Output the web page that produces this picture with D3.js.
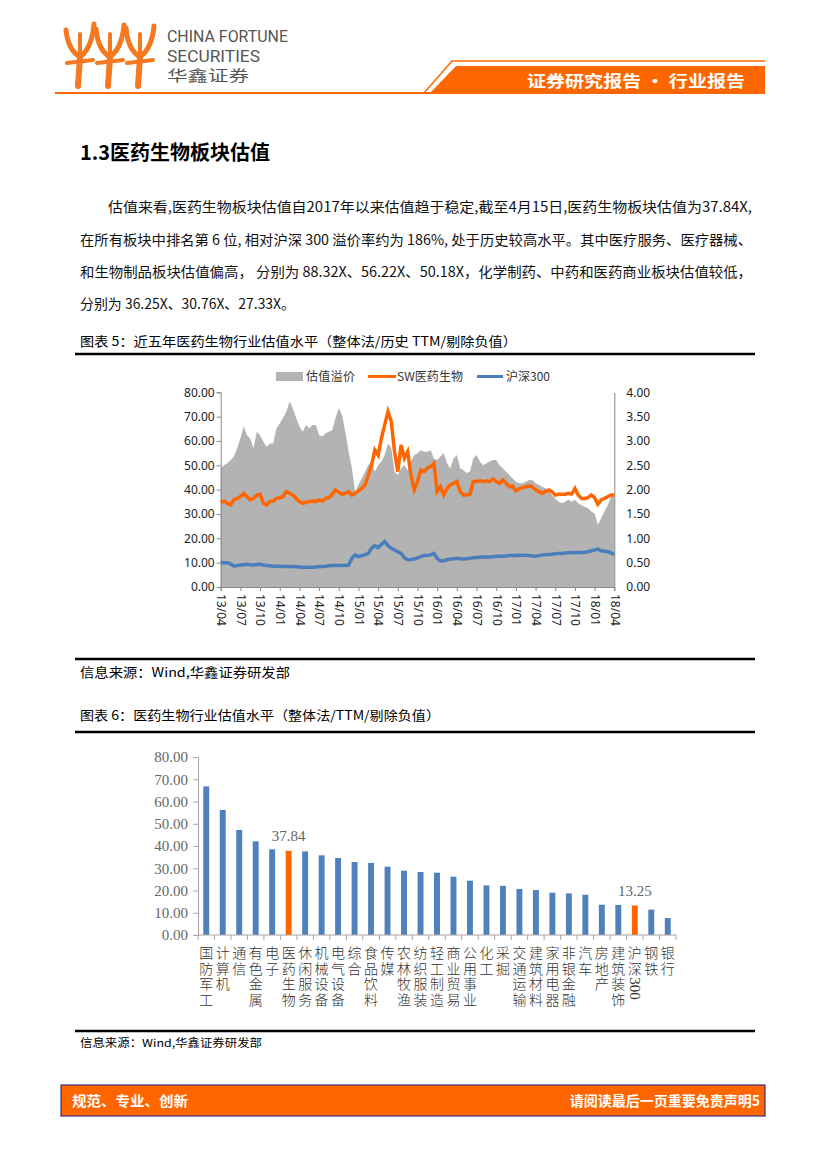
<!DOCTYPE html>
<html>
<head>
<meta charset="utf-8">
<script src="https://cdn.jsdelivr.net/npm/d3@7"></script>
<style>
  body { margin: 0; background: #fff; }
  svg { display: block; }
</style>
</head>
<body>
<script>
// ---- data: chart 5 (half-month steps from 13/04 to 18/04) ----
const xTickLabels = ["13/04","13/07","13/10","14/01","14/04","14/07","14/10","15/01","15/04","15/07","15/10",
                     "16/01","16/04","16/07","16/10","17/01","17/04","17/07","17/10","18/01","18/04"];
const leftTicks = [0, 10, 20, 30, 40, 50, 60, 70, 80];
const rightTicks = [0, 0.5, 1, 1.5, 2, 2.5, 3, 3.5, 4];
const seriesNames = ["估值溢价", "SW医药生物", "沪深300"];

// 估值溢价 (right axis)
const premium = [
  2.44, 2.50, 2.54, 2.60, 2.68, 2.85, 3.05, 3.30, 3.12, 3.05, 2.85, 3.19, 3.12, 2.99, 2.88, 2.95, 2.95, 3.26, 3.36, 3.47,
  3.60, 3.81, 3.67, 3.47, 3.30, 3.19, 3.33, 3.26, 3.33, 3.33, 3.12, 3.09, 3.16, 3.19, 3.22, 3.47, 3.67, 3.53, 3.19, 2.78,
  2.44, 1.95, 2.10, 2.23, 2.37, 2.50, 2.58, 2.37, 2.50, 2.58, 2.71, 2.95, 2.85, 2.37, 2.30, 2.44, 2.50, 2.40, 2.58, 2.71,
  2.75, 2.81, 2.78, 2.78, 2.81, 2.64, 2.61, 2.68, 2.75, 2.54, 2.44, 2.64, 2.71, 2.44, 2.40, 2.34, 2.37, 2.64, 2.71, 2.58,
  2.50, 2.54, 2.58, 2.61, 2.61, 2.50, 2.44, 2.37, 2.30, 2.23, 2.16, 2.13, 2.13, 2.16, 2.20, 2.20, 2.13, 2.10, 2.06, 2.03,
  1.99, 1.89, 1.82, 1.75, 1.72, 1.75, 1.79, 1.75, 1.79, 1.72, 1.68, 1.65, 1.62, 1.55, 1.51, 1.28, 1.41, 1.55, 1.68, 1.86, 1.89
];
// SW医药生物 PE (left axis)
const swPE = [
  34.8, 35.3, 34.4, 33.7, 35.8, 36.4, 37.1, 38.5, 37.1, 35.8, 36.4, 37.8, 38.1, 34.4, 33.7, 35.1, 35.3, 36.4, 36.7, 37.1,
  39.2, 38.5, 37.8, 36.4, 35.1, 34.4, 34.8, 35.1, 35.3, 35.1, 35.8, 35.3, 36.4, 36.7, 38.1, 39.9, 38.9, 38.1, 38.5, 39.2,
  37.8, 38.5, 39.5, 40.5, 41.9, 46.0, 50.1, 56.3, 54.2, 61.1, 66.6, 72.1, 68.0, 55.6, 47.4, 58.4, 52.9, 55.6, 46.0, 39.9,
  43.3, 48.1, 47.4, 48.8, 49.5, 50.8, 39.2, 41.2, 37.8, 40.5, 41.9, 42.6, 43.3, 39.2, 37.8, 37.8, 38.1, 43.3, 43.3, 43.6,
  43.3, 43.6, 43.3, 44.4, 43.3, 42.6, 44.0, 42.6, 41.2, 41.5, 39.5, 40.3, 40.8, 41.2, 41.6, 41.2, 39.9, 39.2, 38.5, 39.2,
  39.9, 39.2, 37.8, 38.1, 38.1, 38.1, 38.5, 38.2, 40.5, 37.8, 36.4, 36.4, 36.7, 37.8, 36.7, 34.0, 35.8, 36.4, 37.1, 37.8, 37.84
];
// 沪深300 PE (left axis)
const hsPE = [
  10.1, 10.0, 10.0, 9.5, 8.6, 8.8, 9.0, 9.1, 9.3, 9.1, 9.0, 9.2, 9.3, 9.0, 8.8, 8.7, 8.5, 8.5, 8.5, 8.4,
  8.4, 8.4, 8.4, 8.3, 8.2, 8.1, 8.1, 8.1, 8.1, 8.2, 8.4, 8.4, 8.5, 8.7, 8.8, 8.8, 8.8, 8.8, 8.8, 9.0,
  11.8, 13.2, 12.5, 12.9, 13.2, 13.8, 15.9, 17.0, 16.2, 17.5, 18.6, 17.0, 15.9, 15.2, 14.5, 13.8, 12.0, 11.2, 11.3, 11.5,
  12.0, 12.5, 12.9, 13.0, 13.2, 13.8, 11.8, 10.7, 10.8, 11.2, 11.5, 11.6, 11.8, 11.6, 11.5, 11.6, 11.8, 12.0, 12.1, 12.2,
  12.3, 12.3, 12.3, 12.4, 12.6, 12.6, 12.6, 12.7, 12.9, 12.9, 12.9, 13.0, 13.0, 13.0, 12.9, 12.7, 12.6, 12.9, 13.2, 13.3,
  13.4, 13.5, 13.7, 13.8, 13.8, 14.0, 14.1, 14.1, 14.2, 14.2, 14.2, 14.3, 14.5, 14.9, 15.2, 15.6, 14.9, 14.7, 14.5, 14.0, 13.25
];

// ---- data: chart 6 ----
const industries = ["国防军工","计算机","通信","有色金属","电子","医药生物","休闲服务","机械设备","电气设备","综合",
                    "食品饮料","传媒","农林牧渔","纺织服装","轻工制造","商业贸易","公用事业","化工","采掘","交通运输",
                    "建筑材料","家用电器","非银金融","汽车","房地产","建筑装饰","沪深300","钢铁","银行"];
const industryPE = [66.8, 56.2, 47.2, 42.1, 38.5, 37.84, 37.6, 35.8, 34.6, 32.8,
                    32.4, 30.7, 28.9, 28.3, 28.0, 26.2, 24.4, 22.3, 22.1, 20.7,
                    20.2, 19.0, 18.7, 18.1, 13.6, 13.5, 13.25, 11.4, 7.6];
const highlighted = ["医药生物", "沪深300"];
const barTicks = [0, 10, 20, 30, 40, 50, 60, 70, 80];

const ORANGE = "#FF6600";
const BLUE = "#4F81BD";
const CJK = "'Noto Sans CJK SC', 'Noto Sans', sans-serif";

const svg = d3.select("body").append("svg")
    .attr("width", 827)
    .attr("height", 1169);

function txt(x, y, s, o) {
    o = o || {};
    let t = svg.append("text")
        .attr("x", x).attr("y", y)
        .attr("font-family", o.font || CJK)
        .attr("font-size", o.size || 13)
        .attr("fill", o.fill || "#000")
        .attr("font-weight", o.weight || "normal")
        .attr("text-anchor", o.anchor || "start")
        .text(s);
    if (o.len) t.attr("textLength", o.len).attr("lengthAdjust", "spacingAndGlyphs");
    return t;
}

function rule(y, w) {
    svg.append("line").attr("x1", 75).attr("x2", 755).attr("y1", y).attr("y2", y)
        .attr("stroke", "#000").attr("stroke-width", w || 2.5);
}

// ---- header ----
const logo = svg.append("g").attr("stroke", "#F47920").attr("fill", "none")
    .attr("stroke-linecap", "round");
[80, 110, 140].forEach(function (cx, i) {
    logo.append("path").attr("d", "M" + (cx - 14) + "," + (30 - i) + " Q" + (cx - 12) + ",50 " + cx + ",57")
        .attr("stroke-width", 5);
    logo.append("path").attr("d", "M" + (cx + 14) + "," + (24 + i) + " Q" + (cx + 12) + ",48 " + cx + ",57")
        .attr("stroke-width", 5);
    logo.append("path").attr("d", "M" + cx + ",34 L" + cx + ",57").attr("stroke-width", 4);
    logo.append("path").attr("d", "M" + cx + ",57 L" + (cx - 2) + ",86").attr("stroke-width", 6);
    logo.append("path").attr("d", "M" + (cx - 13) + ",63 L" + (cx + 13) + ",60").attr("stroke-width", 4);
});
txt(167, 42, "CHINA FORTUNE", { font: "Roboto, sans-serif", size: 16, fill: "#555", len: 121 });
txt(167, 62, "SECURITIES", { font: "Roboto, sans-serif", size: 16, fill: "#555", len: 93 });
txt(167, 81, "华鑫证券", { size: 15, fill: "#555", len: 82 });

svg.append("line").attr("x1", 55).attr("x2", 765).attr("y1", 93).attr("y2", 93)
    .attr("stroke", ORANGE).attr("stroke-width", 2);
svg.append("path").attr("d", "M424,93 L452,61 L765,61").attr("fill", "none")
    .attr("stroke", ORANGE).attr("stroke-width", 1.5);
svg.append("path").attr("d", "M430,93 L456,66 L765,66 L765,93 Z").attr("fill", ORANGE);
txt(527, 87, "证券研究报告 • 行业报告", { size: 16, fill: "#fff", weight: "bold", len: 218 });

// ---- title & paragraph ----
txt(80, 160, "1.3医药生物板块估值", { size: 20, weight: "bold", len: 190 });
const paraLines = [
    [108, 212, 644, "估值来看,医药生物板块估值自2017年以来估值趋于稳定,截至4月15日,医药生物板块估值为37.84X,"],
    [80, 245, 672, "在所有板块中排名第 6 位, 相对沪深 300 溢价率约为 186%, 处于历史较高水平。其中医疗服务、医疗器械、"],
    [80, 277, 672, "和生物制品板块估值偏高， 分别为 88.32X、56.22X、50.18X，化学制药、中药和医药商业板块估值较低，"],
    [80, 309, 215, "分别为 36.25X、30.76X、27.33X。"]
];
paraLines.forEach(function (p) {
    txt(p[0], p[1], p[3], { size: 14, fill: "#111", len: p[2] });
});

txt(80, 346, "图表 5：近五年医药生物行业估值水平（整体法/历史 TTM/剔除负值）", { size: 13, len: 437 });
rule(354);

// ---- chart 5 ----
const x5 = d3.scaleLinear().domain([0, 60]).range([220.7, 614.3]);
const yL = d3.scaleLinear().domain([0, 80]).range([587, 392.3]);
const yR = d3.scaleLinear().domain([0, 4]).range([587, 392.3]);
const halfMonths = premium.map(function (d, i) { return i / 2; });

const c5 = svg.append("g");
c5.append("path")
    .datum(premium)
    .attr("fill", "#B3B3B3")
    .attr("d", d3.area()
        .x(function (d, i) { return x5(halfMonths[i]); })
        .y0(yR(0))
        .y1(function (d) { return yR(d); }));

// axes
c5.append("g").attr("transform", "translate(" + x5(0) + ",0)")
    .call(d3.axisLeft(yL).tickValues(leftTicks).tickSize(4).tickFormat(d3.format(".2f")))
    .call(function (g) {
        g.select(".domain").attr("stroke", "#868686");
        g.selectAll(".tick line").attr("stroke", "#868686");
        g.selectAll("text").attr("font-family", "'Noto Sans', sans-serif").attr("font-size", 12)
            .attr("fill", "#222").attr("x", -6);
    });
c5.append("g").attr("transform", "translate(" + x5(60) + ",0)")
    .call(d3.axisRight(yR).tickValues(rightTicks).tickSize(0).tickFormat(d3.format(".2f")))
    .call(function (g) {
        g.select(".domain").attr("stroke", "#868686");
        g.selectAll("text").attr("font-family", "'Noto Sans', sans-serif").attr("font-size", 12)
            .attr("fill", "#222").attr("x", 12);
    });
c5.append("g").attr("transform", "translate(0," + yL(0) + ")")
    .call(d3.axisBottom(x5).tickValues(xTickLabels.map(function (d, i) { return i * 3; }))
        .tickSize(4).tickFormat(function (d) { return xTickLabels[d / 3]; }))
    .call(function (g) {
        g.select(".domain").attr("stroke", "#868686");
        g.selectAll(".tick line").attr("stroke", "#868686");
        g.selectAll("text").attr("font-family", "'Noto Sans', sans-serif").attr("font-size", 12)
            .attr("fill", "#222").attr("y", 0).attr("dy", "0.35em")
            .attr("transform", "translate(0,7) rotate(90)").attr("text-anchor", "start").attr("x", 0);
    });

const line5 = function (arr) {
    return d3.line().x(function (d, i) { return x5(halfMonths[i]); }).y(function (d) { return yL(d); })(arr);
};
c5.append("path").attr("d", line5(hsPE)).attr("fill", "none").attr("stroke", "#4A7EBB").attr("stroke-width", 3.5);
c5.append("path").attr("d", line5(swPE)).attr("fill", "none").attr("stroke", ORANGE).attr("stroke-width", 3.5);

// legend
const lg = svg.append("g").attr("font-family", CJK).attr("font-size", 12).attr("fill", "#333");
lg.append("rect").attr("x", 276).attr("y", 372).attr("width", 27).attr("height", 9).attr("fill", "#B3B3B3");
lg.append("text").attr("x", 306).attr("y", 381).text(seriesNames[0]).attr("textLength", 49);
lg.append("line").attr("x1", 368).attr("x2", 396).attr("y1", 376.5).attr("y2", 376.5).attr("stroke", ORANGE).attr("stroke-width", 3);
lg.append("text").attr("x", 397).attr("y", 381).text(seriesNames[1]).attr("textLength", 66);
lg.append("line").attr("x1", 477).attr("x2", 503).attr("y1", 376.5).attr("y2", 376.5).attr("stroke", "#4A7EBB").attr("stroke-width", 3);
lg.append("text").attr("x", 506).attr("y", 381).text(seriesNames[2]).attr("textLength", 44);

rule(659);
txt(80, 677, "信息来源：Wind,华鑫证券研发部", { size: 13, len: 210 });

txt(80, 720, "图表 6：医药生物行业估值水平（整体法/TTM/剔除负值）", { size: 13, len: 360 });
rule(732);

// ---- chart 6 ----
const x6 = d3.scaleBand().domain(industries).range([198, 676]).paddingInner(0.64).paddingOuter(0.32);
const y6 = d3.scaleLinear().domain([0, 80]).range([935, 757]);
const c6 = svg.append("g");

c6.selectAll("rect.bar").data(industries).enter().append("rect")
    .attr("class", "bar")
    .attr("x", function (d) { return x6(d); })
    .attr("width", x6.bandwidth())
    .attr("y", function (d, i) { return y6(industryPE[i]); })
    .attr("height", function (d, i) { return y6(0) - y6(industryPE[i]); })
    .attr("fill", function (d) { return highlighted.indexOf(d) >= 0 ? ORANGE : BLUE; });

c6.append("g").attr("transform", "translate(198,0)")
    .call(d3.axisLeft(y6).tickValues(barTicks).tickSize(5).tickFormat(d3.format(".2f")))
    .call(function (g) {
        g.select(".domain").attr("stroke", "#A6A6A6");
        g.selectAll(".tick line").attr("stroke", "#A6A6A6");
        g.selectAll("text").attr("font-family", "'Liberation Serif', serif").attr("font-size", 15)
            .attr("fill", "#666").attr("x", -10);
    });

// x axis with boundary ticks
const step = x6.step();
c6.append("line").attr("x1", 198).attr("x2", 676).attr("y1", 935).attr("y2", 935)
    .attr("stroke", "#A6A6A6");
c6.selectAll("line.sep").data(d3.range(industries.length + 1)).enter().append("line")
    .attr("class", "sep")
    .attr("x1", function (i) { return 198 + i * step; })
    .attr("x2", function (i) { return 198 + i * step; })
    .attr("y1", 935).attr("y2", 940).attr("stroke", "#A6A6A6");

// category labels, one character per row; digit runs are turned sideways
industries.forEach(function (name) {
    const cx = x6(name) + x6.bandwidth() / 2;
    const tokens = name.match(/\d+|./g);
    tokens.forEach(function (tk, r) {
        if (/^\d+$/.test(tk)) {
            c6.append("text").attr("transform", "translate(" + cx + "," + (946 + r * 15.6) + ") rotate(90)")
                .attr("dy", "0.35em").attr("font-family", "'Liberation Serif', serif").attr("font-size", 15)
                .attr("fill", "#333").text(tk);
        } else {
            c6.append("text").attr("x", cx).attr("y", 953 + r * 15.6).attr("dy", "0.36em")
                .attr("text-anchor", "middle").attr("font-family", CJK).attr("font-size", 14)
                .attr("font-weight", 300).attr("fill", "#333").text(tk);
        }
    });
});

// value labels for highlighted bars
highlighted.forEach(function (name) {
    const i = industries.indexOf(name);
    c6.append("text")
        .attr("x", x6(name) + x6.bandwidth() / 2)
        .attr("y", y6(industryPE[i]) - 10)
        .attr("text-anchor", "middle")
        .attr("font-family", "'Liberation Serif', serif").attr("font-size", 15)
        .attr("fill", "#666")
        .text(industryPE[i].toFixed(2));
});

rule(1031);
txt(80, 1047, "信息来源：Wind,华鑫证券研发部", { size: 11, len: 182 });

// ---- footer ----
svg.append("rect").attr("x", 61).attr("y", 1085).attr("width", 704).attr("height", 31)
    .attr("fill", ORANGE).attr("stroke", "#3D2B7A").attr("stroke-width", 1.2);
txt(72, 1106, "规范、专业、创新", { size: 14, fill: "#fff", weight: "bold", len: 116 });
txt(760, 1106, "请阅读最后一页重要免责声明5", { size: 14, fill: "#fff", weight: "bold", anchor: "end" });
</script>
</body>
</html>
